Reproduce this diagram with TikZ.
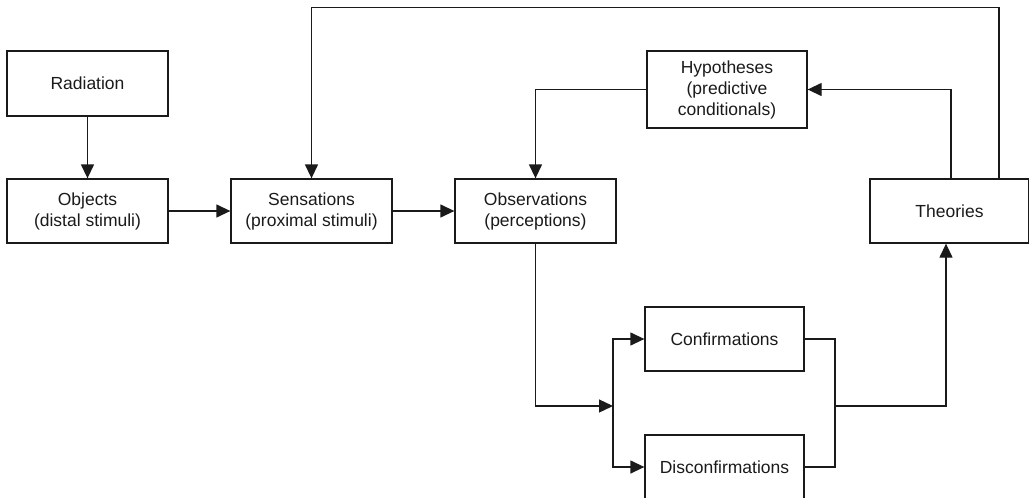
\documentclass[tikz,border=0pt]{standalone}
\usepackage{fontspec}
\setmainfont{Liberation Sans}
\usetikzlibrary{arrows.meta}
\definecolor{ink}{HTML}{1A1A1A}
\begin{document}
\begin{tikzpicture}[x=1pt,y=-1pt,
  box/.style={draw=ink,line width=1.3pt,inner sep=2pt,align=center,text=ink,
    font=\fontsize{17.5}{21}\selectfont,minimum width=161pt,minimum height=64pt},
  link/.style={draw=ink,line width=1.3pt},
  arr/.style={link,-{Triangle[length=14pt,width=13pt]}}]
\useasboundingbox (0,0) rectangle (1029,498);
\clip (0,0) rectangle (1029,498);

% boxes
\node[box,minimum height=65pt] (rad) at (87.5,83.5) {Radiation};
\node[box] (obj) at (87.5,211) {Objects\\(distal stimuli)};
\node[box] (sen) at (311.5,211) {Sensations\\(proximal stimuli)};
\node[box] (obs) at (535.5,211) {Observations\\(perceptions)};
\node[box,minimum width=160pt,minimum height=77pt] (hyp) at (727,89.5) {Hypotheses\\(predictive\\conditionals)};
\node[box,minimum width=159pt] (the) at (949.5,211) {Theories};
\node[box,minimum width=159pt] (con) at (724.5,339) {Confirmations};
\node[box,minimum width=159pt] (dis) at (724.5,467) {Disconfirmations};

% junction points
\coordinate (split) at (613,406);
\coordinate (merge) at (835,406);

% connectors
\draw[arr] (rad) -- (obj);
\draw[arr] (obj) -- (sen);
\draw[arr] (sen) -- (obs);
\draw[arr] (hyp.west) -| (obs.north);
\draw[arr] ([xshift=1.5pt]the.north) |- (hyp.east);
\draw[arr] ([xshift=49.5pt]the.north) -- ++(0,-171) -| (sen.north);
\draw[arr] (obs.south) |- (split);
\draw[arr] (split) |- (con.west);
\draw[arr] (split) |- (dis.west);
\draw[link] (con.east) -| (merge);
\draw[link] (dis.east) -| (merge);
\draw[arr] (merge) -| ([xshift=-3.5pt]the.south);
\end{tikzpicture}
\end{document}
